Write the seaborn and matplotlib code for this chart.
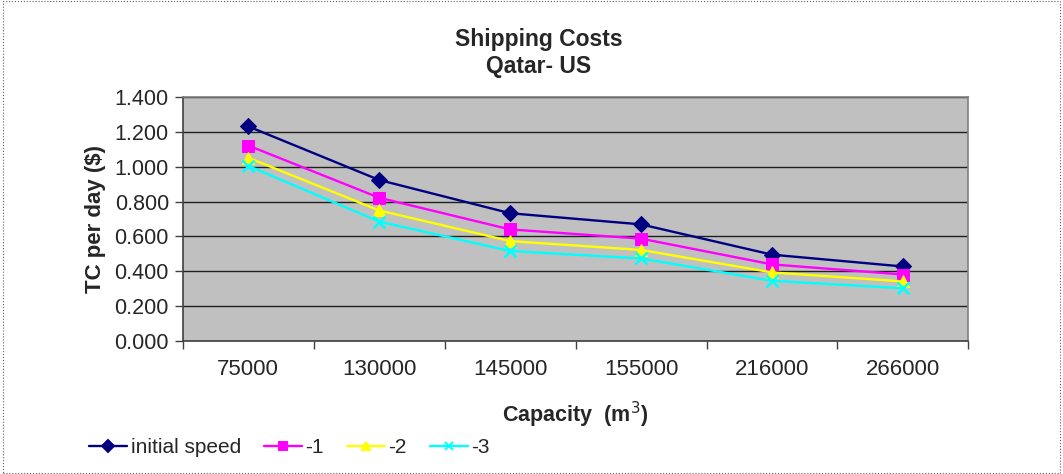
import matplotlib
matplotlib.use("Agg")
import matplotlib.pyplot as plt
import matplotlib.ticker as mticker
from matplotlib.lines import Line2D
import seaborn as sns
import pandas as pd

capacity = ["75000", "130000", "145000", "155000", "216000", "266000"]
initial_speed = [1.232, 0.924, 0.733, 0.669, 0.495, 0.427]
minus_1 = [1.122, 0.822, 0.640, 0.587, 0.439, 0.381]
minus_2 = [1.052, 0.749, 0.573, 0.522, 0.393, 0.341]
minus_3 = [1.005, 0.685, 0.516, 0.473, 0.345, 0.302]
series_names = ["initial speed", "-1", "-2", "-3"]

rows = []
for name, vals in zip(series_names, [initial_speed, minus_1, minus_2, minus_3]):
    for c, v in zip(capacity, vals):
        rows.append({"Capacity": c, "TC": v, "series": name})
df = pd.DataFrame(rows)

colors = {"initial speed": "#000080", "-1": "#FF00FF", "-2": "#FFFF00", "-3": "#00FFFF"}
markers = {"initial speed": "D", "-1": "s", "-2": "^", "-3": "X"}

sns.set_style("white")
plt.rcParams["font.family"] = ["Liberation Sans", "DejaVu Sans"]

fig = plt.figure(figsize=(10.63, 4.74), dpi=100)
ax = fig.add_axes([0.172, 0.281, 0.739, 0.514])
ax.set_facecolor("#C0C0C0")

for name in series_names:
    sub = df[df["series"] == name]
    sns.lineplot(data=sub, x="Capacity", y="TC", ax=ax, color=colors[name],
                 marker=markers[name], markersize=8 if name != "-3" else 9,
                 markeredgecolor=colors[name], linewidth=1.7, legend=False)

# markers for -3 should be thin crosses
for line in ax.lines[3:4]:
    line.set_marker("x")
    line.set_markeredgewidth(1.8)

ax.set_xlim(-0.5, len(capacity) - 0.5)
ax.set_ylim(0, 1.4)
ax.yaxis.set_major_locator(mticker.MultipleLocator(0.2))
ax.yaxis.set_major_formatter(mticker.FormatStrFormatter("%.3f"))
ax.grid(axis="y", color="#202020", linewidth=1.0)
ax.set_axisbelow(True)

# Excel-style category axis: tick marks between categories, labels centred
ax.set_xticks([i - 0.5 for i in range(len(capacity) + 1)])
ax.set_xticklabels([])
ax.set_xticks(range(len(capacity)), minor=True)
ax.set_xticklabels(capacity, minor=True)
ax.tick_params(axis="x", which="major", length=6, width=1, color="#404040",
               direction="out", bottom=True)
ax.tick_params(axis="x", which="minor", length=0, labelsize=16, pad=13)
ax.tick_params(axis="y", length=6, width=1, color="#404040", direction="out",
               left=True, labelsize=15.5, pad=4)

for side in ["top", "right", "left", "bottom"]:
    ax.spines[side].set_color("#808080")
    ax.spines[side].set_linewidth(1.2)
ax.spines["left"].set_color("#404040")
ax.spines["bottom"].set_color("#404040")

ax.set_xlabel("Capacity  (m$^3$)", fontsize=15.5, fontweight="bold", labelpad=14)
ax.set_ylabel("TC per day ($)", fontsize=16, fontweight="bold", labelpad=6)
fig.suptitle("Shipping Costs\nQatar- US", x=0.507, y=0.94, fontsize=16.5,
             fontweight="bold", linespacing=1.2)

handles = []
for name in series_names:
    m = "x" if name == "-3" else markers[name]
    handles.append(Line2D([0], [0], color=colors[name], marker=m, markersize=6,
                          markeredgecolor=colors[name], linewidth=1.7,
                          markeredgewidth=1.4))
fig.legend(handles, series_names, loc="center left", bbox_to_anchor=(0.066, 0.055),
           ncol=4, frameon=False, fontsize=15, handlelength=1.85, handletextpad=0.15,
           columnspacing=1.1)

fig.patches.append(plt.Rectangle((0.003, 0.003), 0.994, 0.994, transform=fig.transFigure,
                                 fill=False, edgecolor="#606060", linewidth=0.8,
                                 linestyle=":"))

fig.savefig("out.png", dpi=100)
